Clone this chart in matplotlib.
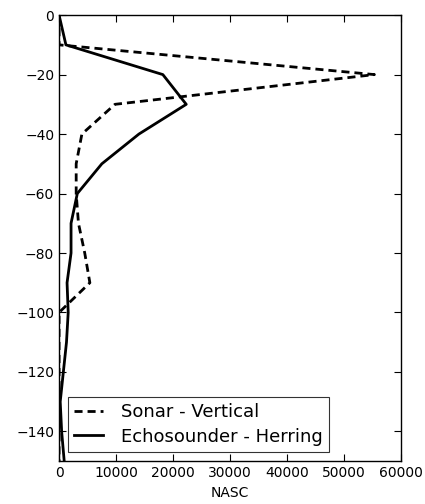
import matplotlib

matplotlib.use("Agg")
import matplotlib.pyplot as plt

# depth bins (m) and NASC values
depth = [0, -10, -20, -30, -40, -50, -60, -70, -80, -90, -100, -110, -120, -130, -140, -150]
sonar_vertical = [0, 0, 55300, 9800, 4000, 3000, 3000, 3400, 4500, 5400, 0, 0, 0, 0, 0, 0]
echosounder_herring = [0, 1200, 18200, 22300, 14000, 7500, 3200, 2100, 2100, 1400, 1600, 1300, 750, 200, 450, 900]

x_ticks = [0, 10000, 20000, 30000, 40000, 50000, 60000]
y_ticks = [0, -20, -40, -60, -80, -100, -120, -140]


def main() -> None:
    fig = plt.figure(figsize=(4.25, 5.04), dpi=100)
    ax = fig.add_axes([0.139, 0.085, 0.805, 0.885])

    ax.plot(sonar_vertical, depth, color="black", lw=2, linestyle="--", dashes=(2.9, 1.8),
            label="Sonar - Vertical")
    ax.plot(echosounder_herring, depth, color="black", lw=2, label="Echosounder - Herring")

    ax.set_xlim(0, 60000)
    ax.set_ylim(-150, 0)
    ax.set_xticks(x_ticks)
    ax.set_yticks(y_ticks)
    ax.tick_params(direction="in", top=True, right=True, labelsize=10, length=5, width=0.8)
    for spine in ax.spines.values():
        spine.set_linewidth(1.0)
    ax.set_xlabel("NASC", fontsize=10)

    leg = ax.legend(loc="lower left", fontsize=13, fancybox=False, handlelength=1.6,
                    handletextpad=1.0, borderpad=0.35, labelspacing=0.35,
                    borderaxespad=0.5)
    leg.get_frame().set_edgecolor("black")
    leg.get_frame().set_linewidth(0.8)

    fig.savefig("out.png", dpi=100)


if __name__ == "__main__":
    main()
